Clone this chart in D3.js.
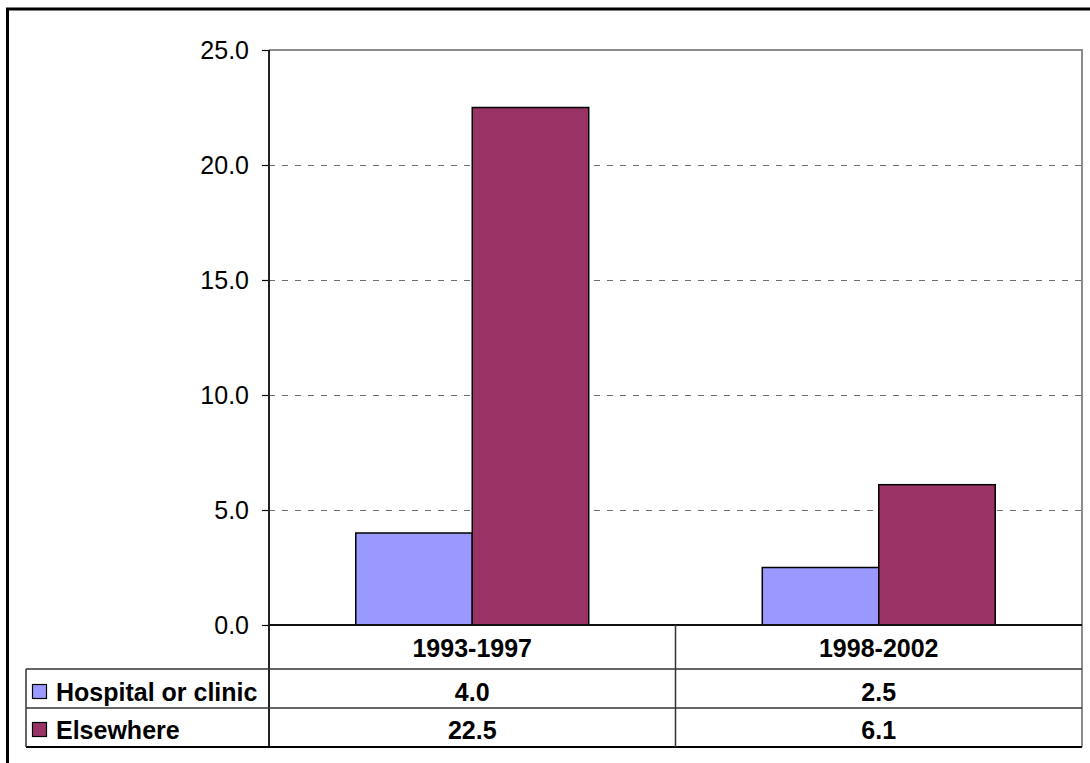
<!DOCTYPE html>
<html>
<head>
<meta charset="utf-8">
<script src="https://cdn.jsdelivr.net/npm/d3@7"></script>
<style>
  html, body { margin: 0; padding: 0; background: #fff; }
  svg { display: block; font-family: "Liberation Sans", Arial, sans-serif; }
</style>
</head>
<body>
<svg id="chart" width="1090" height="763"></svg>
<script>
// Periods shown along the category axis
const categories = ["1993-1997", "1998-2002"];
// Series names and their values per period
const seriesNames = ["Hospital or clinic", "Elsewhere"];
const hospitalValues = [4.0, 2.5];
const elsewhereValues = [22.5, 6.1];
const seriesColors = ["#9999FF", "#993366"];
// Value axis ticks
const yTicks = [0, 5, 10, 15, 20, 25];

const seriesValues = [hospitalValues, elsewhereValues];

const svg = d3.select("#chart");

// Layout of the plot area and the data table underneath it
const plot = { left: 269, right: 1082, top: 50, bottom: 625 };
const tableLeft = 26;
const rowBottoms = [669, 708, 747];

// Outer chart frame
svg.append("rect")
  .attr("x", 7.5).attr("y", 9)
  .attr("width", 1200).attr("height", 900)
  .attr("fill", "none").attr("stroke", "#000").attr("stroke-width", 3);

const x = d3.scaleBand().domain(categories).range([plot.left, plot.right]).padding(0);
const xInner = d3.scaleBand().domain(seriesNames).range([0, x.bandwidth()])
  .paddingInner(0).paddingOuter(0.745);
const y = d3.scaleLinear().domain([0, 25]).range([plot.bottom, plot.top]);

// Dashed gridlines
svg.append("g")
  .selectAll("line")
  .data(yTicks.filter(d => d > 0 && d < 25))
  .join("line")
  .attr("x1", plot.left).attr("x2", plot.right)
  .attr("y1", d => y(d) + 0.5).attr("y2", d => y(d) + 0.5)
  .attr("stroke", "#6e6e6e").attr("stroke-width", 1)
  .attr("stroke-dasharray", "6,7");

// Plot area top and right border
svg.append("path")
  .attr("d", `M${plot.left},${plot.top}H${plot.right}V${rowBottoms[2]}`)
  .attr("fill", "none").attr("stroke", "#8c8c8c").attr("stroke-width", 2);

// Bars
const groups = svg.append("g").selectAll("g")
  .data(categories)
  .join("g")
  .attr("transform", d => `translate(${x(d)},0)`);

groups.selectAll("rect")
  .data((c, ci) => seriesNames.map((s, si) => ({ s, si, v: seriesValues[si][ci] })))
  .join("rect")
  .attr("x", d => xInner(d.s))
  .attr("y", d => y(d.v))
  .attr("width", xInner.bandwidth())
  .attr("height", d => y(0) - y(d.v))
  .attr("fill", d => seriesColors[d.si])
  .attr("stroke", "#000").attr("stroke-width", 1.5);

// Value axis
const yAxis = d3.axisLeft(y)
  .tickValues(yTicks)
  .tickFormat(d3.format(".1f"))
  .tickSize(7)
  .tickPadding(13);

const yAxisG = svg.append("g")
  .attr("transform", `translate(${plot.left},0)`)
  .call(yAxis);
yAxisG.select(".domain").remove();
yAxisG.selectAll(".tick line").attr("stroke", "#000").attr("stroke-width", 1.2);
yAxisG.selectAll(".tick text")
  .attr("font-size", 25).attr("fill", "#000")
  .attr("font-family", "Liberation Sans, Arial, sans-serif");

// Axis line
svg.append("line")
  .attr("x1", plot.left).attr("x2", plot.left)
  .attr("y1", plot.top).attr("y2", rowBottoms[2])
  .attr("stroke", "#222").attr("stroke-width", 2);

// Data table grid
const grid = svg.append("g").attr("stroke", "#333").attr("stroke-width", 1.5).attr("fill", "none");
grid.append("line")
  .attr("x1", plot.left).attr("x2", plot.right)
  .attr("y1", plot.bottom).attr("y2", plot.bottom)
  .attr("stroke", "#111").attr("stroke-width", 2);
grid.append("line")
  .attr("x1", tableLeft).attr("x2", plot.right)
  .attr("y1", rowBottoms[0]).attr("y2", rowBottoms[0]);
grid.append("line")
  .attr("x1", tableLeft).attr("x2", plot.right)
  .attr("y1", rowBottoms[1]).attr("y2", rowBottoms[1]);
grid.append("line")
  .attr("x1", tableLeft).attr("x2", plot.right)
  .attr("y1", rowBottoms[2]).attr("y2", rowBottoms[2])
  .attr("stroke", "#000").attr("stroke-width", 2);
grid.append("line")
  .attr("x1", tableLeft).attr("x2", tableLeft)
  .attr("y1", rowBottoms[0]).attr("y2", rowBottoms[2]);
grid.selectAll("line.sep")
  .data(categories.slice(1))
  .join("line")
  .attr("class", "sep")
  .attr("x1", d => x(d)).attr("x2", d => x(d))
  .attr("y1", plot.bottom).attr("y2", rowBottoms[2]);

// Category labels
svg.append("g").selectAll("text")
  .data(categories)
  .join("text")
  .attr("x", d => x(d) + x.bandwidth() / 2)
  .attr("y", 657)
  .attr("text-anchor", "middle")
  .attr("font-size", 25).attr("font-weight", "bold")
  .text(d => d);

// Value rows with legend keys
const rowBaselines = [701, 739];
seriesNames.forEach((name, si) => {
  svg.append("rect")
    .attr("x", 32.5).attr("y", rowBaselines[si] - 16.5)
    .attr("width", 14).attr("height", 14)
    .attr("fill", seriesColors[si])
    .attr("stroke", "#000").attr("stroke-width", 1.2);
  svg.append("text")
    .attr("x", 56).attr("y", rowBaselines[si])
    .attr("font-size", 25).attr("font-weight", "bold")
    .text(name);
  svg.append("g").selectAll("text")
    .data(categories)
    .join("text")
    .attr("x", d => x(d) + x.bandwidth() / 2)
    .attr("y", rowBaselines[si])
    .attr("text-anchor", "middle")
    .attr("font-size", 25).attr("font-weight", "bold")
    .text((d, ci) => d3.format(".1f")(seriesValues[si][ci]));
});
</script>
</body>
</html>
